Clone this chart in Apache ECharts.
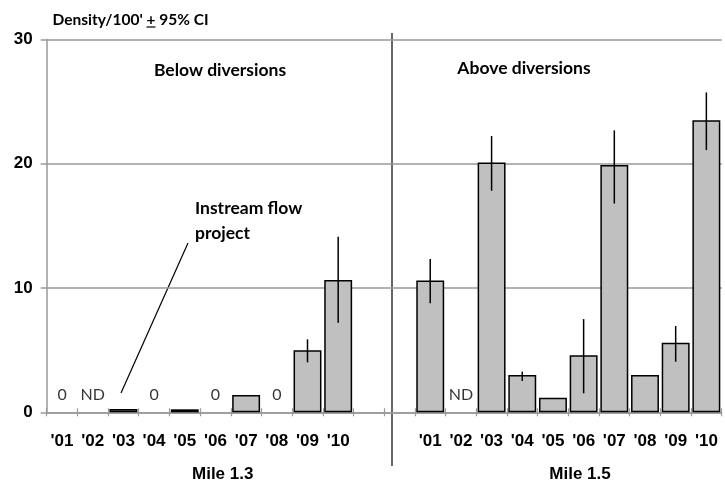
<!DOCTYPE html>
<html><head><meta charset="utf-8">
<script src="https://cdn.jsdelivr.net/npm/echarts@6/dist/echarts.min.js"></script>
<style>html,body{margin:0;padding:0;background:#fff}#c{width:725px;height:483px}</style>
</head><body><div id="c"></div>
<script>
const categories = ["'01","'02","'03","'04","'05","'06","'07","'08","'09","'10","","","'01","'02","'03","'04","'05","'06","'07","'08","'09","'10"];
const density = [0,null,0.27,0,0.24,0,1.39,0,5.0,10.65, null,null, 10.6,null,20.1,3.0,1.18,4.6,19.9,3.0,5.6,23.5];
const ciLow  = [null,null,null,null,null,null,null,null,4.02,7.21, null,null, 8.77,null,17.83,2.52,null,1.53,16.8,null,4.07,21.1];
const ciHigh = [null,null,null,null,null,null,null,null,5.87,14.13, null,null, 12.33,null,22.23,3.27,null,7.5,22.69,null,6.94,25.74];
const noteText = ["0","ND","","0","","0","","0","","", "","", "","ND","","","","","","","",""];
const yTicks = [0,10,20,30];

const chart = echarts.init(document.getElementById('c'), null, {renderer:'canvas'});
const barData = density.map(v => (v === 0 ? null : v));
const errData = [];
ciLow.forEach((lo,i)=>{ if(lo!=null && ciHigh[i]!=null) errData.push([i, lo, ciHigh[i]]); });
const noteData = [];
noteText.forEach((t,i)=>{ if(t) noteData.push([i, 0, t]); });

const narrow = '"Liberation Sans Narrow", "Arial Narrow", "Liberation Sans", sans-serif';
const axisFont = {fontFamily:narrow, fontWeight:'bold', fontSize:17, color:'#000'};
const calFont = 'Lato, "Open Sans", sans-serif';
const titleFont = 'bold 15.5px ' + calFont;
const ctx = document.createElement('canvas').getContext('2d');
ctx.font = titleFont;
const preW = ctx.measureText("Density/100' ").width;
const plusW = ctx.measureText("+").width;
const titleX = 52.5;

chart.setOption({
  animation:false,
  grid:{left:46.7, right:3.3, top:39.5, bottom:70.7},
  xAxis:[{
    type:'category', data:categories, position:'bottom',
    axisLine:{lineStyle:{color:'#999', width:1.5}},
    axisTick:{show:true, length:4, interval:0, lineStyle:{color:'#999', width:1.2}},
    axisLabel:Object.assign({interval:0, margin:21}, axisFont),
    splitLine:{show:false}
  },{
    type:'category', data:categories, position:'bottom', offset:0,
    axisLine:{show:false},
    axisTick:{show:true, inside:true, length:4, interval:0, lineStyle:{color:'#999', width:1.2}},
    axisLabel:{show:false}, splitLine:{show:false}
  }],
  yAxis:{
    type:'value', min:yTicks[0], max:yTicks[yTicks.length-1], interval:10,
    axisLine:{show:true, lineStyle:{color:'#999', width:1.5}},
    axisTick:{show:true, length:6, lineStyle:{color:'#999', width:1.5}},
    axisLabel:Object.assign({margin:14}, axisFont),
    splitLine:{show:true, lineStyle:{color:'#999', width:1.5}}
  },
  series:[{
    type:'bar', data:barData, barCategoryGap:'9%',
    itemStyle:{color:'#c0c0c0', borderColor:'#000', borderWidth:1.5}
  },{
    type:'custom', data:errData, encode:{x:0, y:[1,2]}, z:5,
    renderItem:function(params, api){
      const p1 = api.coord([api.value(0), api.value(1)]);
      const p2 = api.coord([api.value(0), api.value(2)]);
      return {type:'line', shape:{x1:p1[0], y1:p1[1], x2:p2[0], y2:p2[1]}, style:{stroke:'#000', lineWidth:1.5}};
    }
  },{
    type:'scatter', data:noteData, symbolSize:0, z:6,
    label:{show:true, position:'inside', offset:[0,-17], formatter:p=>p.data[2],
      fontFamily:calFont, fontSize:16, color:'#000'}
  }],
  graphic:[
    {type:'text', x:titleX, y:20, style:{text:"Density/100' + 95% CI", font:titleFont, fill:'#000', align:'left', verticalAlign:'middle'}},
    {type:'line', shape:{x1:titleX+preW, y1:27, x2:titleX+preW+plusW, y2:27}, style:{stroke:'#000', lineWidth:1.2}},
    {type:'text', x:220, y:70, style:{text:'Below diversions', font:'bold 17.5px '+calFont, fill:'#000', align:'center', verticalAlign:'middle'}},
    {type:'text', x:524, y:68, style:{text:'Above diversions', font:'bold 17.5px '+calFont, fill:'#000', align:'center', verticalAlign:'middle'}},
    {type:'text', x:195, y:208, style:{text:'Instream flow', font:'bold 17.5px '+calFont, fill:'#000', align:'left', verticalAlign:'middle'}},
    {type:'text', x:195, y:233, style:{text:'project', font:'bold 17.5px '+calFont, fill:'#000', align:'left', verticalAlign:'middle'}},
    {type:'line', shape:{x1:188, y1:243, x2:121, y2:393}, style:{stroke:'#000', lineWidth:1.2}},
    {type:'line', shape:{x1:392, y1:33, x2:392, y2:466}, style:{stroke:'#000', lineWidth:1.2}},
    {type:'text', x:222.7, y:474, style:{text:'Mile 1.3', font:'bold 17px '+narrow, fill:'#000', align:'center', verticalAlign:'middle'}},
    {type:'text', x:580, y:474, style:{text:'Mile 1.5', font:'bold 17px '+narrow, fill:'#000', align:'center', verticalAlign:'middle'}}
  ]
});
</script>
</body></html>
